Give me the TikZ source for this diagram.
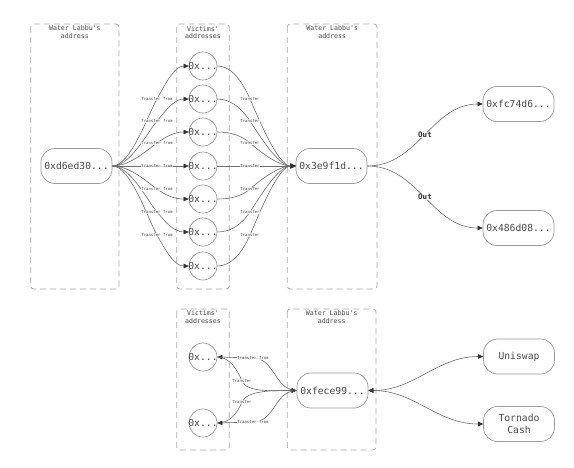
\documentclass[tikz,border=0pt]{standalone}
\usepackage{fontspec}
\setmonofont{DejaVu Sans Mono}
\usetikzlibrary{arrows.meta}
\definecolor{edgecol}{HTML}{6E6E6E}
\definecolor{tipcol}{HTML}{333333}
\definecolor{nodeborder}{HTML}{9A9A9A}
\definecolor{clusterborder}{HTML}{AAAAAA}
\definecolor{txt}{HTML}{4A4A4A}
\begin{document}
\begin{tikzpicture}[x=1pt,y=-1pt,
  addr/.style={draw=nodeborder, line width=0.7pt, rounded corners=14pt, minimum width=71pt, minimum height=35pt, inner sep=0pt, font=\ttfamily\fontsize{9.7}{11.5}\selectfont, text=txt, align=center},
  vcirc/.style={draw=nodeborder, line width=0.7pt, circle, minimum size=28pt, inner sep=0pt},
  vtext/.style={font=\ttfamily\fontsize{9.7}{11}\selectfont, text=txt, inner sep=0pt},
  cluster/.style={draw=clusterborder, line width=0.8pt, dash pattern=on 6pt off 4pt, rounded corners=3pt},
  ctitle/.style={font=\ttfamily\fontsize{6.6}{7.5}\selectfont, text=txt, align=center, inner sep=0pt},
  flow/.style={draw=edgecol, line width=0.6pt, -{Triangle[length=5pt,width=4.5pt,color=tipcol]}},
  biflow/.style={draw=edgecol, line width=0.6pt, {Triangle[length=5pt,width=4.5pt,color=tipcol]}-{Triangle[length=5pt,width=4.5pt,color=tipcol]}},
  elabel/.style={font=\ttfamily\fontsize{4}{4.5}\selectfont, text=txt, fill=white, fill opacity=0.75, text opacity=1, inner sep=0.6pt},
  olabel/.style={font=\ttfamily\bfseries\fontsize{7.5}{8}\selectfont, text=tipcol, fill=white, fill opacity=0.75, text opacity=1, inner sep=0.6pt},
]
\useasboundingbox (0,0) rectangle (574,467);
\fill[white] (0,0) rectangle (574,467);

% ---------- clusters (top) ----------
\draw[cluster] (30.7,24) rectangle (119,289);
\draw[cluster] (176.7,24) rectangle (229.3,289);
\draw[cluster] (287.3,24) rectangle (377,289);
\node[ctitle] (t1) at (74.9,32) {Water Labbu's\\address};
\node[ctitle] (t2) at (203,32.5) {Victims'\\addresses};
\node[ctitle] (t3) at (332.2,32) {Water Labbu's\\address};

% ---------- clusters (bottom) ----------
\draw[cluster] (176.7,309) rectangle (229.3,450);
\draw[cluster] (287.3,309) rectangle (376,450);
\node[ctitle] (t4) at (203,317) {Victims'\\addresses};
\node[ctitle] (t5) at (331.7,317) {Water Labbu's\\address};

% ---------- top nodes ----------
\node[addr] (d6) at (76.5,166) {0xd6ed30...};
\node[addr] (e3) at (331.5,166) {0x3e9f1d...};
\node[addr] (fc) at (518.5,104) {0xfc74d6...};
\node[addr] (f4) at (518.5,228) {0x486d08...};
\foreach \i/\yc in {1/66,2/99,3/132,4/166,5/199,6/232,7/266}{
  \node[vcirc] (v\i) at (203,\yc) {};
  \node[vtext] (vt\i) at (v\i) {0x...};
}

% label coordinates
\foreach \i/\yl in {1/99,2/121,3/143,4/166,5/189,6/212,7/235}{
  \coordinate (la\i) at (157,\yl);
  \coordinate (lb\i) at (250,\yl);
}

% fan-out edges
\foreach \i/\h in {1/-18,2/-12,3/-7,5/7,6/12,7/18}{
  \draw[flow] (d6.east) .. controls +(18,0) and +(-10,-\h) .. (la\i) .. controls +(10,\h) and +(-14,0) .. (v\i.west);
  \draw[flow] (v\i.east) .. controls +(14,0) and +(-8,\h) .. (lb\i) .. controls +(8,-\h) and +(-18,0) .. (e3.west);
}
\draw[flow] (d6.east) -- (v4.west);
\draw[flow] (v4.east) -- (e3.west);

\foreach \i in {1,...,7}{
  \node[elabel] (lta\i) at (la\i) {Transfer from};
  \node[elabel] (ltb\i) at (lb\i) {Transfer};
}

% out edges
\draw[flow] (e3.east) to[out=0,in=180] node[olabel] (o1) {Out} (fc.west);
\draw[flow] (e3.east) to[out=0,in=180] node[olabel] (o2) {Out} (f4.west);

% ---------- bottom nodes ----------
\node[vcirc] (vb1) at (203,357) {};
\node[vtext] (vbt1) at (vb1) {0x...};
\node[vcirc] (vb2) at (203,423) {};
\node[vtext] (vbt2) at (vb2) {0x...};
\node[addr] (fe) at (332.5,390.5) {0xfece99...};
\node[addr] (uni) at (519,356.5) {Uniswap};
\node[addr] (tor) at (519,424) {Tornado\\Cash};

\coordinate (lc1) at (253,358);
\coordinate (lc2) at (242,381);
\coordinate (lc3) at (242,402);
\coordinate (lc4) at (253,422);

\draw[flow] (fe.west) .. controls +(-22,0) and +(22,0) .. (lc1) -- (vb1.east);
\draw[flow] (vb1.east) .. controls +(12,0) and +(-5,-12) .. (lc2) .. controls +(5,12) and +(-22,0) .. (fe.west);
\draw[flow] (vb2.east) .. controls +(12,0) and +(-5,12) .. (lc3) .. controls +(5,-12) and +(-22,0) .. (fe.west);
\draw[flow] (fe.west) .. controls +(-22,0) and +(22,0) .. (lc4) -- (vb2.east);

\node[elabel] (lct1) at (lc1) {Transfer from};
\node[elabel] (lct2) at (lc2) {Transfer};
\node[elabel] (lct3) at (lc3) {Transfer};
\node[elabel] (lct4) at (lc4) {Transfer from};

\draw[biflow] (fe.east) to[out=0,in=180] (uni.west);
\draw[biflow] (fe.east) to[out=0,in=180] (tor.west);
\end{tikzpicture}
\end{document}
